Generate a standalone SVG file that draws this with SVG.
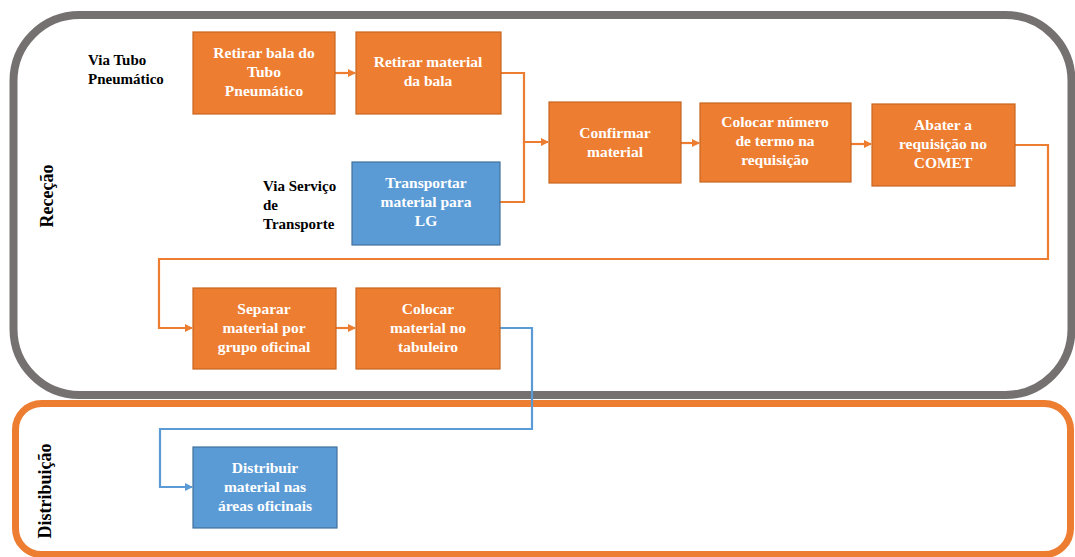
<svg xmlns="http://www.w3.org/2000/svg" width="1075" height="557" viewBox="0 0 1075 557">
  <style>
    .lane { fill: none; }
    .or { fill: #ED7D31; stroke: #C9651F; stroke-width: 1.2; }
    .bl { fill: #5B9BD5; stroke: #41719C; stroke-width: 1.2; }
    .bt { font-family: "Liberation Serif", "Times New Roman", serif; font-weight: bold; font-size: 15.5px; fill: #FFFFFF; text-anchor: middle; }
    .lb { font-family: "Liberation Serif", "Times New Roman", serif; font-weight: bold; font-size: 15px; fill: #000000; }
    .ll { font-family: "Liberation Serif", "Times New Roman", serif; font-weight: bold; font-size: 18px; fill: #000000; text-anchor: middle; }
    .co { fill: none; stroke: #ED7D31; stroke-width: 2.2; }
    .cb { fill: none; stroke: #5B9BD5; stroke-width: 2.2; }
  </style>
  <defs>
    <marker id="ao" markerWidth="8" markerHeight="8" refX="7" refY="4" orient="auto" markerUnits="userSpaceOnUse">
      <path d="M0,0 L8,4 L0,8 Z" fill="#ED7D31"/>
    </marker>
    <marker id="ab" markerWidth="8" markerHeight="8" refX="7" refY="4" orient="auto" markerUnits="userSpaceOnUse">
      <path d="M0,0 L8,4 L0,8 Z" fill="#5B9BD5"/>
    </marker>
  </defs>
  <rect width="1075" height="557" fill="#FFFFFF"/>

  <!-- swimlanes -->
  <g id="lane-rececao">
    <rect class="lane" x="13.5" y="15" width="1058" height="380" rx="66" ry="66" stroke="#767171" stroke-width="8"/>
    <text class="ll" transform="translate(53,196) rotate(-90)">Receção</text>
  </g>
  <g id="lane-distribuicao">
    <rect class="lane" x="15.5" y="403.5" width="1055" height="151" rx="26" ry="26" stroke="#ED7D31" stroke-width="7"/>
    <text class="ll" transform="translate(51,491) rotate(-90)">Distribuição</text>
  </g>

  <!-- side labels -->
  <g id="label-tubo">
    <text class="lb" x="88" y="65">Via Tubo</text>
    <text class="lb" x="88" y="84">Pneumático</text>
  </g>
  <g id="label-servico">
    <text class="lb" x="263" y="191">Via Serviço</text>
    <text class="lb" x="263" y="210">de</text>
    <text class="lb" x="263" y="229">Transporte</text>
  </g>

  <!-- connectors -->
  <g id="connectors">
    <path class="co" d="M335,73 H355" marker-end="url(#ao)"/>
    <path class="co" d="M501,73 H524 V142 H548" marker-end="url(#ao)"/>
    <path class="co" d="M500,202 H524 V142"/>
    <path class="co" d="M681,143 H699" marker-end="url(#ao)"/>
    <path class="co" d="M851,144 H871" marker-end="url(#ao)"/>
    <path class="co" d="M1015,145 H1048 V259 H159 V328 H192" marker-end="url(#ao)"/>
    <path class="co" d="M336,328 H355" marker-end="url(#ao)"/>
    <path class="cb" d="M500,328 H532 V429 H160 V487 H192" marker-end="url(#ab)"/>
  </g>

  <!-- process steps -->
  <g id="n-retirar-bala">
    <rect class="or" x="193" y="32" width="142" height="82"/>
    <text class="bt" x="264" y="58">Retirar bala do</text>
    <text class="bt" x="264" y="77">Tubo</text>
    <text class="bt" x="264" y="96">Pneumático</text>
  </g>
  <g id="n-retirar-material">
    <rect class="or" x="356" y="32" width="145" height="82"/>
    <text class="bt" x="428" y="67">Retirar material</text>
    <text class="bt" x="428" y="86">da bala</text>
  </g>
  <g id="n-transportar">
    <rect class="bl" x="352" y="162" width="148" height="83"/>
    <text class="bt" x="426" y="188">Transportar</text>
    <text class="bt" x="426" y="207">material para</text>
    <text class="bt" x="426" y="226">LG</text>
  </g>
  <g id="n-confirmar">
    <rect class="or" x="549" y="102" width="132" height="81"/>
    <text class="bt" x="615" y="138">Confirmar</text>
    <text class="bt" x="615" y="157">material</text>
  </g>
  <g id="n-colocar-numero">
    <rect class="or" x="700" y="103" width="151" height="79"/>
    <text class="bt" x="775" y="127">Colocar número</text>
    <text class="bt" x="775" y="146">de termo na</text>
    <text class="bt" x="775" y="165">requisição</text>
  </g>
  <g id="n-abater">
    <rect class="or" x="872" y="104" width="143" height="82"/>
    <text class="bt" x="943" y="130">Abater a</text>
    <text class="bt" x="943" y="149">requisição no</text>
    <text class="bt" x="943" y="168">COMET</text>
  </g>
  <g id="n-separar">
    <rect class="or" x="193" y="288" width="143" height="81"/>
    <text class="bt" x="264" y="314">Separar</text>
    <text class="bt" x="264" y="333">material por</text>
    <text class="bt" x="264" y="352">grupo  oficinal</text>
  </g>
  <g id="n-colocar-tabuleiro">
    <rect class="or" x="356" y="288" width="144" height="81"/>
    <text class="bt" x="428" y="314">Colocar</text>
    <text class="bt" x="428" y="333">material no</text>
    <text class="bt" x="428" y="352">tabuleiro</text>
  </g>
  <g id="n-distribuir">
    <rect class="bl" x="193" y="447" width="144" height="81"/>
    <text class="bt" x="265" y="473">Distribuir</text>
    <text class="bt" x="265" y="492">material nas</text>
    <text class="bt" x="265" y="511">áreas oficinais</text>
  </g>
</svg>
